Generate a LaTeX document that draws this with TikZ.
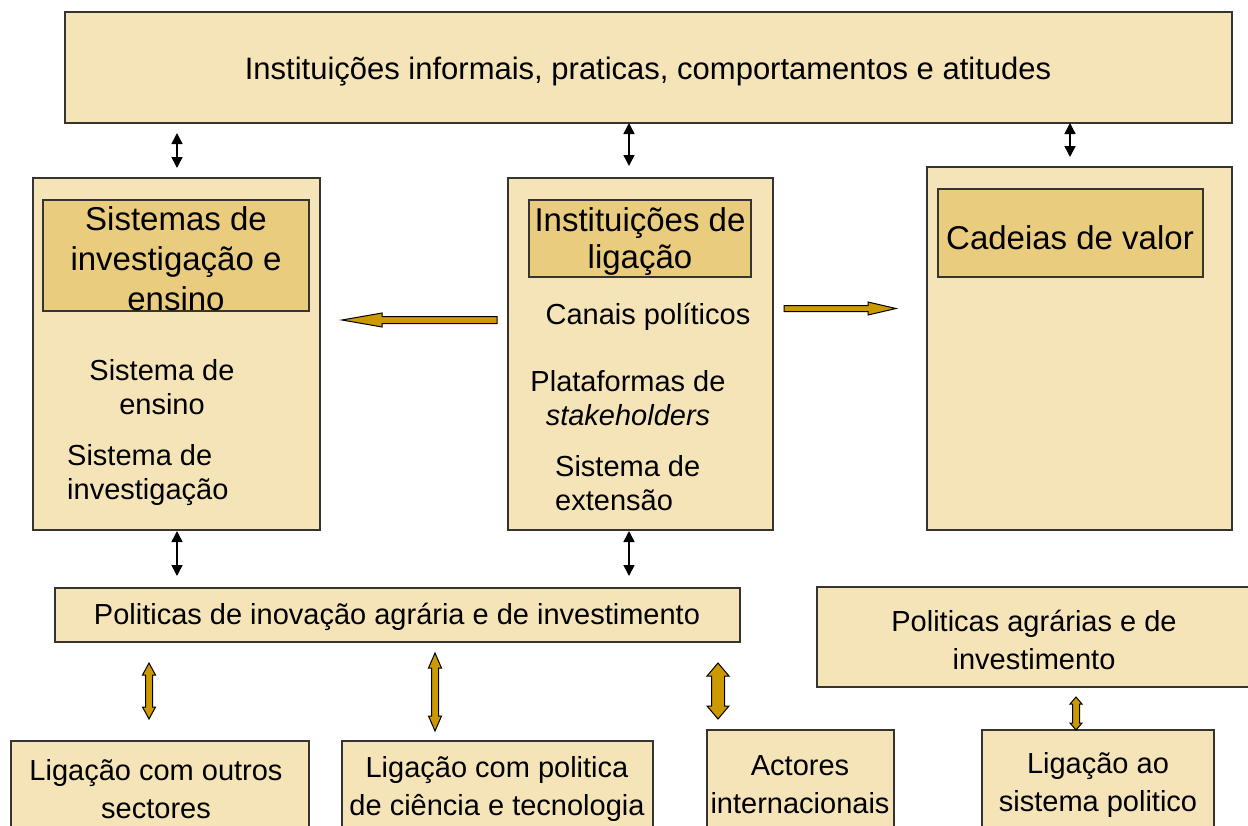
\documentclass[tikz,border=0pt]{standalone}
\usepackage{fontspec}
\setmainfont{Liberation Sans}
\usetikzlibrary{arrows.meta}
\definecolor{boxfill}{HTML}{F4E4B8}
\definecolor{titlefill}{HTML}{E9CC7E}
\definecolor{boxline}{HTML}{363430}
\definecolor{gold}{HTML}{CC9900}
\newcommand{\gvarrow}[6]{%
\filldraw[garrow] (#1-#4,#2+#6) -- (#1-#5,#2+#6) -- (#1,#2) -- (#1+#5,#2+#6) -- (#1+#4,#2+#6) -- (#1+#4,#3-#6) -- (#1+#5,#3-#6) -- (#1,#3) -- (#1-#5,#3-#6) -- (#1-#4,#3-#6) -- cycle;}
\tikzset{
  box/.style={draw=boxline, fill=boxfill, line width=1.4pt, inner sep=0pt, outer sep=0pt, anchor=north west},
  tbox/.style={box, fill=titlefill},
  txt/.style={font=\fontsize{29}{34}\selectfont, align=center, inner sep=0pt},
  ttxt/.style={font=\fontsize{33}{40}\selectfont, align=center, inner sep=0pt},
  btxt/.style={font=\fontsize{29}{38}\selectfont, align=center, inner sep=0pt},
  blk/.style={{Triangle[length=11pt,width=11pt]}-{Triangle[length=11pt,width=11pt]}, line width=1.5pt, black},
  garrow/.style={fill=gold, draw=black, line width=1pt, line join=miter}
}
\begin{document}
\begin{tikzpicture}[x=1pt,y=-1pt]
\clip (0,0) rectangle (1248,825);
\fill[white] (0,0) rectangle (1248,825);
% top
\node[box, minimum width=1167, minimum height=111] (top) at (65,12) {};
\node[txt, font=\fontsize{31}{36}\selectfont] (toptext) at (648,72) {Instituições informais, praticas, comportamentos e atitudes};
% left column
\node[box, minimum width=287, minimum height=352] (left) at (33,178) {};
\node[tbox, minimum width=266, minimum height=111] (leftT) at (43,200) {};
\node[ttxt] (leftTtext) at (176,259) {Sistemas de\\investigação e\\ensino};
\node[txt] (ensino) at (162,387) {Sistema de\\ensino};
\node[txt, align=left, anchor=west] (invest) at (67,475) {Sistema de\\investigação};
% middle column
\node[box, minimum width=265, minimum height=352] (mid) at (508,178) {};
\node[tbox, minimum width=222, minimum height=77] (midT) at (529,200) {};
\node[ttxt, font=\fontsize{33}{37}\selectfont] (midTtext) at (640,242) {Instituições de\\ligação};
\node[txt] (canais) at (648,317) {Canais políticos};
\node[txt] (plat) at (628,398) {Plataformas de\\\textit{stakeholders}};
\node[txt, align=left, anchor=west] (ext) at (555,483) {Sistema de\\extensão};
% right column
\node[box, minimum width=305, minimum height=363] (right) at (927,167) {};
\node[tbox, minimum width=265, minimum height=88] (rightT) at (938,189) {};
\node[ttxt] (rightTtext) at (1070,238) {Cadeias de valor};
% policies
\node[box, minimum width=685, minimum height=54] (pol1) at (55,588) {};
\node[txt] (pol1text) at (397,617) {Politicas de inovação agrária e de investimento};
\node[box, minimum width=450, minimum height=100] (pol2) at (817,587) {};
\node[btxt] (pol2text) at (1034,640) {Politicas agrárias e de\\investimento};
% bottom boxes
\node[box, minimum width=298, minimum height=120] (b1) at (11,741) {};
\node[btxt] (b1text) at (156,789) {Ligação com outros\\sectores};
\node[box, minimum width=311, minimum height=120] (b2) at (342,741) {};
\node[btxt] (b2text) at (497,789) {Ligação com politica\\de ciência e tecnologia};
\node[box, minimum width=187, minimum height=130] (b3) at (707,730) {};
\node[btxt] (b3text) at (800,785) {Actores\\internacionais};
\node[box, minimum width=232, minimum height=130] (b4) at (982,730) {};
\node[btxt] (b4text) at (1098,785) {Ligação ao\\sistema politico};
% black double arrows
\coordinate (a1s) at (177,133); \coordinate (a1e) at (177,168);
\coordinate (a2s) at (629,123); \coordinate (a2e) at (629,166);
\coordinate (a3s) at (1070,123); \coordinate (a3e) at (1070,157);
\coordinate (a4s) at (177,531); \coordinate (a4e) at (177,576);
\coordinate (a5s) at (629,531); \coordinate (a5e) at (629,576);
\draw[blk] (a1s) -- (a1e);
\draw[blk] (a2s) -- (a2e);
\draw[blk] (a3s) -- (a3e);
\draw[blk] (a4s) -- (a4e);
\draw[blk] (a5s) -- (a5e);
% gold horizontal arrows
\filldraw[garrow] (497,316.5) -- (382,316.5) -- (382,313) -- (342,320) -- (382,327) -- (382,323.5) -- (497,323.5) -- cycle;
\filldraw[garrow] (784,305.5) -- (868,305.5) -- (868,302) -- (896,308.5) -- (868,315) -- (868,311.5) -- (784,311.5) -- cycle;
% gold vertical double arrows
\gvarrow{149}{663}{719}{3.5}{6.5}{12}
\gvarrow{435}{653}{731}{3.5}{6.5}{15}
\gvarrow{718}{663}{719}{6.5}{11}{13}
\gvarrow{1076}{697}{730}{3.5}{6}{7}
\end{tikzpicture}
\end{document}
